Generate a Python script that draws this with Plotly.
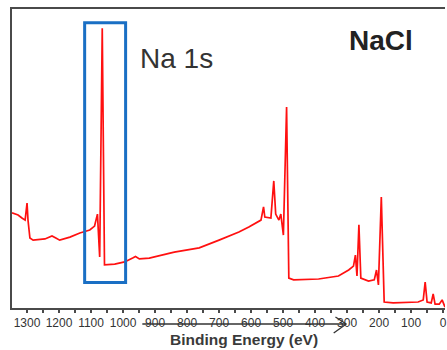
import plotly.graph_objects as go

# XPS survey spectrum of NaCl (binding energy in eV, intensity in arbitrary units)
energy_ev = [1347, 1328, 1316, 1306, 1300, 1297, 1291, 1281, 1244, 1222, 1210, 1198,
             1166, 1135, 1104, 1089, 1080, 1076, 1073, 1065, 1058, 1026, 995, 970,
             961, 949, 918, 840, 762, 700, 638, 607, 582, 569, 561, 557, 538, 529,
             523, 513, 507, 499, 489, 482, 467, 389, 327, 295, 280, 274, 269, 263,
             257, 233, 215, 208, 202, 193, 184, 156, 78, 62, 56, 50, 37, 31, 25,
             12, 3, -6]
intensity = [31.8, 31.1, 30.1, 29.4, 35.1, 29.4, 23.4, 22.7, 23.1, 24.1, 23.4, 22.7,
             23.7, 25.1, 26.1, 27.4, 31.4, 24.0, 17.1, 93.6, 14.4, 14.7, 15.4, 16.7,
             17.2, 16.4, 16.7, 18.7, 20.1, 22.7, 25.4, 27.1, 28.8, 29.4, 33.8, 30.4,
             30.1, 42.5, 31.4, 29.4, 31.4, 24.4, 67.2, 10.0, 9.4, 9.7, 10.7, 12.7,
             14.0, 17.7, 10.7, 27.8, 10.0, 9.0, 9.4, 12.7, 7.7, 37.1, 2.0, 1.7, 2.0,
             2.7, 8.7, 2.0, 1.7, 4.7, 1.3, 1.3, 2.7, 0.3]

# Highlighted Na 1s region
box_ev = [1120, 992]

fig = go.Figure()
fig.add_trace(go.Scatter(
    x=energy_ev, y=intensity, mode="lines",
    line=dict(color="#ff1010", width=1.7),
    hoverinfo="skip", showlegend=False,
))

axis_col = "#4a4a4a"
fig.update_layout(
    width=447, height=350,
    margin=dict(l=12, r=0, t=9, b=42),
    paper_bgcolor="white", plot_bgcolor="white",
    font=dict(family="Liberation Sans, Arial, sans-serif", color="#333333"),
    xaxis=dict(
        range=[1347, -6], showgrid=False, zeroline=False,
        showline=True, linecolor=axis_col, linewidth=2, mirror=True,
        tickmode="linear", tick0=0, dtick=100,
        ticks="outside", ticklen=3, tickwidth=1.5, tickcolor=axis_col,
        minor=dict(dtick=50, ticks="outside", ticklen=3, tickwidth=1.5, tickcolor=axis_col),
        tickfont=dict(size=12, color="#333333"),
        ticklabeloverflow="allow",
    ),
    yaxis=dict(
        range=[0, 100], showgrid=False, zeroline=False,
        showline=True, linecolor=axis_col, linewidth=2,
        showticklabels=False, ticks="",
    ),
)

# Box around the Na 1s peak
fig.add_shape(type="rect", xref="x", yref="paper",
              x0=box_ev[0], x1=box_ev[1], y0=0.085, y1=0.954,
              line=dict(color="#1a6fc4", width=3), fillcolor="rgba(0,0,0,0)")

# Arrow drawn across the tick labels
arrow_col = "#333333"
for x0, y0, x1, y1 in [(0.301, -0.0535, 0.772, -0.0535),
                       (0.747, -0.030, 0.772, -0.0535),
                       (0.772, -0.0535, 0.743, -0.0836)]:
    fig.add_shape(type="line", xref="paper", yref="paper",
                  x0=x0, y0=y0, x1=x1, y1=y1,
                  line=dict(color=arrow_col, width=1.3))

fig.add_annotation(text="Na 1s", xref="paper", yref="paper", x=0.380, y=0.836,
                   showarrow=False, font=dict(size=28, color="#333333"),
                   xanchor="center", yanchor="middle")
fig.add_annotation(text="<b>NaCl</b>", xref="paper", yref="paper", x=0.853, y=0.896,
                   showarrow=False, font=dict(size=28, color="#222222"),
                   xanchor="center", yanchor="middle")
fig.add_annotation(text="<b>Binding Energy (eV)</b>", xref="paper", yref="paper",
                   x=0.536, y=-0.107, showarrow=False,
                   font=dict(size=15.5, color="#3a3a3a"),
                   xanchor="center", yanchor="middle")

fig.write_html("out.html")
